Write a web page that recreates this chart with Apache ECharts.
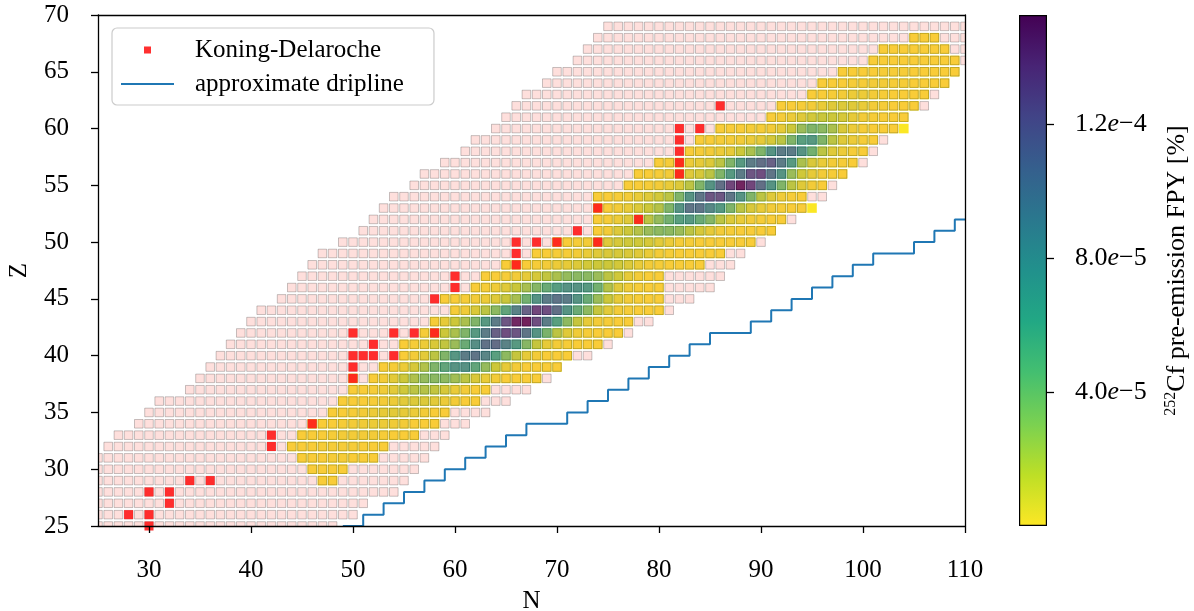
<!DOCTYPE html>
<html>
<head>
<meta charset="utf-8">
<script src="https://cdn.jsdelivr.net/npm/echarts/dist/echarts.min.js"></script>
<style>
  html, body { margin: 0; padding: 0; background: #ffffff; }
  #chart { width: 1194px; height: 611px; }
</style>
</head>
<body>
<div id="chart"></div>
<script>
// ---- nuclide chart extent: for each Z (25..69) the lowest and highest N drawn ----
const Z_FIRST = 25;
const chartLoN = [25, 25, 25, 25, 25, 25, 25, 26, 27, 29, 30, 31, 34, 35, 36, 37, 38, 39, 40, 41,
                  43, 44, 45, 46, 47, 49, 51, 52, 53, 54, 56, 57, 59, 61, 62, 64, 65, 66, 67, 69,
                  70, 72, 73, 74, 75];
const chartHiN = [48, 50, 51, 54, 55, 56, 57, 58, 59, 61, 63, 65, 67, 69, 70, 73, 75, 77, 79, 81,
                  83, 85, 86, 87, 88, 90, 91, 93, 94, 96, 97, 98, 100, 101, 102, 103, 104, 106, 107, 108,
                  109, 110, 110, 110, 110];

// ---- 252Cf pre-emission fission product yields, in units of 1e-5 % ----
const fpyRowZ = [29, 30, 31, 32, 33, 34, 35, 36, 37, 38, 39, 40, 41, 42, 43, 44, 45, 46, 47, 48,
                 49, 50, 51, 52, 53, 54, 55, 56, 57, 58, 59, 60, 61, 62, 63, 64, 65, 66, 67, 68];
const fpyRowStartN = [47, 46, 45, 44, 45, 46, 48, 49, 50, 50, 53, 55, 55, 57, 58, 60, 59, 62, 63, 65,
                      68, 70, 74, 74, 74, 74, 77, 78, 80, 83, 84, 86, 91, 92, 95, 96, 98, 101, 102, 105];
const fpyRowValues = [
  [0.1, 0.1],
  [0.1, 0.1, 0.1, 0.1],
  [0.1, 0.1, 0.1, 0.2, 0.2, 0.1, 0.1, 0.1],
  [0.1, 0.1, 0.1, 0.2, 0.2, 0.2, 0.2, 0.1, 0.1, 0.1],
  [0.1, 0.1, 0.1, 0.2, 0.3, 0.3, 0.3, 0.3, 0.2, 0.1, 0.1, 0.1],
  [0.1, 0.1, 0.1, 0.2, 0.3, 0.4, 0.5, 0.5, 0.4, 0.3, 0.1, 0.1, 0.1],
  [0.1, 0.1, 0.2, 0.3, 0.5, 0.7, 0.8, 0.7, 0.5, 0.3, 0.1, 0.1],
  [0.1, 0.1, 0.1, 0.2, 0.3, 0.5, 0.8, 1.0, 1.0, 0.8, 0.5, 0.3, 0.1, 0.1],
  [0.1, 0.1, 0.2, 0.4, 0.8, 1.4, 2.0, 2.2, 1.8, 1.2, 0.6, 0.3, 0.1, 0.1],
  [0.1, null, 0.1, 0.3, 0.8, 1.5, 2.4, 3.2, 3.6, 3.5, 2.8, 2.0, 1.1, 0.6, 0.3, 0.1, 0.1, 0.1, 0.1],
  [0.1, 0.2, 0.5, 1.2, 2.3, 4.0, 5.5, 7.0, 7.2, 5.5, 3.2, 1.5, 0.7, 0.3, 0.1, 0.1, 0.1, 0.1],
  [0.1, 0.3, 0.8, 2.0, 4.0, 6.8, 9.0, 9.6, 8.2, 6.0, 3.5, 1.7, 0.7, 0.3, 0.1, 0.1, 0.1],
  [0.1, 0.2, 0.5, 1.1, 1.8, 3.0, 5.0, 7.5, 9.8, 10.2, 8.5, 6.5, 3.8, 1.7, 0.7, 0.3, 0.2, 0.1, 0.1, 0.1],
  [0.2, 0.7, 1.5, 2.5, 4.0, 6.5, 9.0, 11.2, 12.5, 12.0, 9.5, 7.0, 4.2, 2.0, 0.9, 0.4, 0.2, 0.1, 0.1, 0.1],
  [0.2, 0.7, 1.5, 2.5, 4.0, 6.5, 9.0, 12.0, 14.8, 15.2, 12.5, 9.0, 6.0, 3.5, 1.7, 0.7, 0.3, 0.2, 0.1, 0.1],
  [0.2, 0.4, 1.1, 2.0, 3.5, 5.5, 8.5, 11.0, 13.0, 12.5, 10.0, 7.0, 5.0, 3.5, 1.7, 0.8, 0.3, 0.2, 0.1, 0.1, 0.1],
  [0.1, 0.1, 0.2, 0.3, 0.5, 0.9, 1.6, 2.6, 4.5, 7.0, 9.0, 9.6, 9.0, 7.0, 5.0, 3.0, 1.5, 0.7, 0.3, 0.2, 0.1, 0.1],
  [0.1, 0.2, 0.4, 0.9, 1.6, 2.6, 3.8, 5.0, 6.2, 7.0, 7.0, 6.5, 4.5, 2.2, 0.9, 0.4, 0.2, 0.1, 0.1],
  [0.1, 0.1, 0.2, 0.3, 0.7, 1.2, 1.8, 2.5, 3.2, 3.6, 3.6, 3.0, 2.0, 1.4, 0.7, 0.3, 0.1, 0.1],
  [0.1, 0.1, 0.1, 0.2, 0.3, 0.5, 0.7, 1.0, 1.3, 1.5, 1.5, 1.3, 1.0, 0.6, 0.3, 0.2, 0.1, 0.1, 0.1, 0.1],
  [0.1, 0.1, 0.2, 0.2, 0.3, 0.6, 0.9, 1.1, 1.2, 1.1, 0.9, 0.6, 0.3, 0.2, 0.1, 0.1, 0.1, 0.1, 0.1],
  [0.1, 0.1, 0.2, 0.3, 0.5, 0.9, 1.2, 1.4, 1.4, 1.2, 0.8, 0.5, 0.2, 0.2, 0.1, 0.1, 0.1, 0.1, 0.1, 0.1],
  [0.1, 0.3, 1.0, 1.5, 2.2, 3.0, 3.5, 3.5, 3.0, 2.0, 1.2, 0.7, 0.3, 0.2, 0.1, 0.1, 0.1, 0.1],
  [0.1, 0.2, 0.5, 0.9, 1.3, 2.0, 3.2, 4.5, 6.0, 6.5, 5.0, 3.8, 2.0, 1.0, 0.6, 0.3, 0.2, 0.1, 0.1],
  [0.1, 0.1, 0.3, 0.6, 1.0, 1.5, 2.2, 4.0, 7.0, 9.5, 9.5, 8.0, 6.5, 4.0, 2.0, 1.1, 0.6, 0.3, 0.2, 0.1, 0.1, 0.05],
  [0.1, 0.1, 0.2, 0.3, 0.6, 0.9, 1.3, 2.0, 4.0, 7.0, 9.5, 12.0, 12.0, 9.5, 7.0, 4.0, 2.0, 0.9, 0.4, 0.2, 0.1],
  [0.1, 0.1, 0.2, 0.3, 0.6, 1.0, 2.0, 4.0, 7.0, 10.0, 13.0, 15.0, 13.0, 10.0, 7.0, 4.0, 2.0, 0.9, 0.3, 0.1],
  [0.1, 0.1, 0.2, 0.3, 0.6, 0.9, 1.2, 2.0, 4.0, 6.5, 9.0, 12.0, 12.5, 9.5, 7.0, 3.0, 1.4, 0.7, 0.3, 0.2, 0.1],
  [0.1, 0.2, 0.3, 0.5, 0.7, 1.0, 2.0, 4.0, 6.5, 9.0, 10.0, 11.0, 9.0, 6.5, 2.5, 1.1, 0.6, 0.3, 0.2, 0.1],
  [0.1, 0.2, 0.3, 0.5, 0.7, 1.5, 2.5, 4.0, 7.0, 9.0, 9.0, 7.0, 4.5, 2.0, 0.9, 0.5, 0.2, 0.1],
  [0.1, 0.1, 0.2, 0.2, 0.3, 0.5, 0.7, 1.2, 2.0, 4.0, 6.0, 6.5, 4.0, 2.0, 0.9, 0.5, 0.2, 0.1],
  [0.1, 0.1, 0.1, 0.2, 0.2, 0.3, 0.7, 1.5, 3.0, 4.0, 3.5, 2.5, 1.1, 0.5, 0.2, 0.1, 0.1, 0.1, 0.05],
  [0.1, 0.2, 0.5, 0.9, 1.3, 1.6, 1.5, 1.2, 0.7, 0.3, 0.2, 0.1, 0.1, 0.1],
  [0.1, 0.1, 0.2, 0.3, 0.6, 0.9, 1.0, 0.9, 0.6, 0.3, 0.2, 0.1, 0.1, 0.1],
  [0.1, 0.1, 0.2, 0.3, 0.5, 0.5, 0.3, 0.2, 0.1, 0.1, 0.1, 0.1],
  [0.1, 0.1, 0.1, 0.2, 0.2, 0.3, 0.3, 0.2, 0.2, 0.1, 0.1, 0.1, 0.1],
  [0.1, 0.1, 0.1, 0.1, 0.2, 0.2, 0.2, 0.1, 0.1, 0.1, 0.1, 0.1],
  [0.1, 0.1, 0.1, 0.1, 0.1, 0.1, 0.1, 0.1, 0.1],
  [0.1, 0.1, 0.1, 0.1, 0.1, 0.1, 0.1],
  [0.1, 0.1, 0.1]
];
const FPY_UNIT = 1e-5;

// ---- nuclei covered by the Koning-Delaroche optical potential ----
const kdN = [28, 30, 30, 30, 32, 32, 34, 36, 42, 42, 46, 50, 50, 50, 51, 52, 54, 52, 50, 54, 56,
             58, 58, 60, 60, 66, 66, 66, 68, 70, 74, 72, 78, 74, 82, 82, 82, 82, 82, 84, 86];
const kdZ = [26, 26, 25, 28, 28, 27, 29, 29, 32, 33, 34, 38, 39, 40, 40, 40, 40, 41, 42, 42, 42,
             42, 45, 46, 47, 48, 49, 50, 50, 50, 50, 51, 52, 53, 56, 57, 58, 59, 60, 60, 62];

// ---- approximate neutron dripline (step start N for each Z) ----
const driplineZ = [25, 26, 27, 28, 29, 30, 31, 32, 33, 34, 35, 36, 37, 38, 39, 40, 41, 42, 43, 44,
                   45, 46, 47, 48, 49, 50, 51, 52, 52];
const driplineN = [49, 51, 53, 55, 57, 59, 61, 63, 65, 67, 71, 73, 75, 77, 79, 81, 83, 85, 89, 91,
                   93, 95, 97, 99, 101, 105, 107, 109, 111];

// ---- axes ----
const xTicks = [30, 40, 50, 60, 70, 80, 90, 100, 110];
const CB_MAX = 1.526e-4;
const cbTicks = [4e-5, 8e-5, 1.2e-4];
const cbMantissa = ['4.0', '8.0', '1.2'];
const cbExponent = ['\u22125', '\u22125', '\u22124'];

const FONT = 'Liberation Serif';
const VIRIDIS_LOW_TO_HIGH = ['#fde725', '#bddf26', '#7ad151', '#44bf70', '#22a884', '#21918c',
                             '#2a788e', '#355f8d', '#414487', '#482475', '#440154'];

// ---- build series data ----
const nuclei = [];
chartLoN.forEach((lo, i) => {
  for (let n = lo; n <= chartHiN[i]; n++) nuclei.push([n, Z_FIRST + i]);
});
const fpyCells = [];
fpyRowZ.forEach((z, i) => {
  fpyRowValues[i].forEach((v, k) => {
    if (v !== null) fpyCells.push([fpyRowStartN[i] + k, z, v * FPY_UNIT]);
  });
});
const kdPoints = kdN.map((n, i) => [n, kdZ[i]]);
const dripline = driplineN.map((n, i) => [n, driplineZ[i]]);

// square cell centred on an (N, Z) point
function cellRect(api, inset) {
  const c = api.coord([api.value(0), api.value(1)]);
  const u = api.size([1, 1]);
  const side = Math.min(u[0], u[1]) * 0.94 - inset;
  return { x: c[0] - side / 2, y: c[1] - side / 2, width: side, height: side };
}

const chart = echarts.init(document.getElementById('chart'), null, { renderer: 'canvas' });

const axisBlack = { color: '#000000', width: 1.3 };
const tickFont = { fontFamily: FONT, fontSize: 25, color: '#000000' };

chart.setOption({
  animation: false,
  backgroundColor: '#ffffff',
  grid: [
    { left: 98, top: 15, width: 867, height: 511, outerBoundsMode: 'none', containLabel: false },
    { left: 1019, top: 15, width: 28, height: 511, outerBoundsMode: 'none', containLabel: false }
  ],
  legend: {
    left: 112, top: 28, orient: 'vertical',
    padding: [9, 30, 8, 9], itemGap: 8,
    itemWidth: 53, itemHeight: 7,
    borderColor: '#cccccc', borderWidth: 1.2, borderRadius: 5,
    backgroundColor: 'rgba(255,255,255,0.85)',
    selectedMode: false,
    textStyle: { fontFamily: FONT, fontSize: 25, color: '#000000', lineHeight: 26, padding: [0, 0, 0, 16] },
    data: [
      { name: 'Koning-Delaroche', icon: 'path://M0,0h10v10h-10z' },
      { name: 'approximate dripline', icon: 'path://M0,0h30v1h-30z' }
    ]
  },
  visualMap: {
    type: 'continuous', show: false, seriesIndex: 0, dimension: 2,
    min: 0, max: CB_MAX,
    inRange: { color: VIRIDIS_LOW_TO_HIGH }
  },
  xAxis: [
    {
      gridIndex: 0, type: 'value', min: 25, max: 110, position: 'bottom', z: 10,
      axisLine: { show: true, onZero: false, lineStyle: axisBlack },
      axisTick: { show: true, inside: false, length: 7, customValues: xTicks, lineStyle: axisBlack },
      axisLabel: Object.assign({ customValues: xTicks, margin: 32 }, tickFont),
      splitLine: { show: false },
      name: 'N', nameLocation: 'middle', nameGap: 63,
      nameTextStyle: { fontFamily: FONT, fontSize: 25, color: '#000000' }
    },
    {
      gridIndex: 0, type: 'value', min: 25, max: 110, position: 'top', z: 10,
      axisLine: { show: true, onZero: false, lineStyle: axisBlack },
      axisTick: { show: false }, axisLabel: { show: false }, splitLine: { show: false }
    },
    { gridIndex: 1, type: 'category', data: ['FPY'], show: false }
  ],
  yAxis: [
    {
      gridIndex: 0, type: 'value', min: 25, max: 70, interval: 5, position: 'left', z: 10,
      axisLine: { show: true, onZero: false, lineStyle: axisBlack },
      axisTick: { show: true, inside: false, length: 7, lineStyle: axisBlack },
      axisLabel: Object.assign({ margin: 29 }, tickFont),
      splitLine: { show: false },
      name: 'Z', nameLocation: 'middle', nameGap: 66, nameRotate: 90,
      nameTextStyle: { fontFamily: FONT, fontSize: 25, color: '#000000' }
    },
    {
      gridIndex: 0, type: 'value', min: 25, max: 70, position: 'right', z: 10,
      axisLine: { show: true, onZero: false, lineStyle: axisBlack },
      axisTick: { show: false }, axisLabel: { show: false }, splitLine: { show: false }
    },
    {
      gridIndex: 1, type: 'value', min: 0, max: CB_MAX, position: 'right',
      axisLine: { show: false },
      axisTick: { show: true, inside: false, length: 7, customValues: cbTicks, lineStyle: axisBlack },
      axisLabel: {
        customValues: cbTicks, margin: 28,
        formatter: function (v) {
          let i = 0;
          cbTicks.forEach((t, k) => { if (Math.abs(t - v) < Math.abs(cbTicks[i] - v)) i = k; });
          return '{m|' + cbMantissa[i] + '}{e|e}{m|' + cbExponent[i] + '}';
        },
        rich: {
          m: { fontFamily: FONT, fontSize: 26, color: '#000000' },
          e: { fontFamily: FONT, fontSize: 26, fontStyle: 'italic', color: '#000000' }
        }
      },
      splitLine: { show: false },
      name: '{s|252}{t|Cf pre-emission FPY [%]}',
      nameLocation: 'middle', nameRotate: 90, nameGap: 116,
      nameTextStyle: {
        rich: {
          s: { fontFamily: FONT, fontSize: 16, color: '#000000', padding: [0, 0, 12, 0] },
          t: { fontFamily: FONT, fontSize: 26, color: '#000000' }
        }
      }
    }
  ],
  series: [
    {
      name: 'FPY', type: 'custom', xAxisIndex: 0, yAxisIndex: 0, clip: true, z: 1,
      encode: { x: 0, y: 1 },
      data: fpyCells,
      renderItem: function (params, api) {
        return { type: 'rect', shape: cellRect(api, 0), style: { fill: api.visual('color') } };
      }
    },
    {
      name: 'nuclei', type: 'custom', xAxisIndex: 0, yAxisIndex: 0, clip: true, z: 2, silent: true,
      encode: { x: 0, y: 1 },
      data: nuclei,
      renderItem: function (params, api) {
        return {
          type: 'rect', shape: cellRect(api, 1),
          style: { fill: 'rgba(250,128,114,0.25)', stroke: 'rgba(0,0,0,0.22)', lineWidth: 1 }
        };
      }
    },
    {
      name: 'Koning-Delaroche', type: 'scatter', xAxisIndex: 0, yAxisIndex: 0, z: 3,
      symbol: 'rect', symbolSize: 9,
      itemStyle: { color: '#ff1a1a', opacity: 0.9 },
      data: kdPoints
    },
    {
      name: 'approximate dripline', type: 'line', xAxisIndex: 0, yAxisIndex: 0, z: 4,
      step: 'end', showSymbol: false, symbol: 'none', clip: true,
      color: '#1f77b4',
      lineStyle: { color: '#1f77b4', width: 2 },
      data: dripline
    },
    {
      name: 'colorbar', type: 'bar', xAxisIndex: 2, yAxisIndex: 2, silent: true,
      barWidth: '100%',
      data: [CB_MAX],
      itemStyle: {
        borderColor: '#000000', borderWidth: 1.2,
        color: new echarts.graphic.LinearGradient(0, 1, 0, 0,
          VIRIDIS_LOW_TO_HIGH.map((c, i) => ({ offset: i / (VIRIDIS_LOW_TO_HIGH.length - 1), color: c })))
      }
    }
  ]
});
</script>
</body>
</html>
